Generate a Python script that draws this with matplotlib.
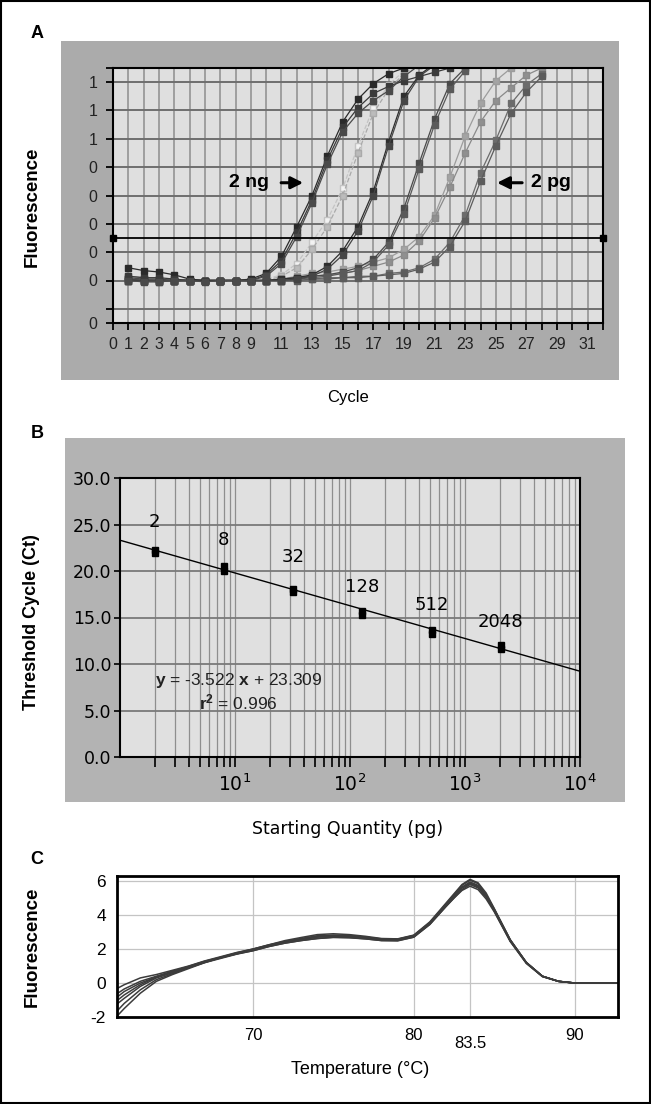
import numpy as np
import matplotlib
matplotlib.use('Agg')
import matplotlib.pyplot as plt
from matplotlib import font_manager
from matplotlib.patches import Rectangle

W, H = 651.0, 1104.0

# ---- panel A: amplification curves (fluorescence per cycle) ----
cycles = list(range(1, 29))
g1a = [0.09, 0.07, 0.06, 0.04, 0.01, 0.00, 0.00, 0.00, 0.01, 0.05, 0.17, 0.38, 0.60, 0.88,
       1.12, 1.28, 1.39, 1.46, 1.50, 1.53, 1.56, 1.58, 1.60, 1.61, 1.62, 1.62, 1.62, 1.62]
g1b = [0.03, 0.02, 0.02, 0.01, 0.00, 0.00, 0.00, 0.00, 0.00, 0.04, 0.14, 0.34, 0.57, 0.85,
       1.08, 1.22, 1.32, 1.37, 1.41, 1.44, 1.47, 1.50, 1.53, 1.55, 1.57, 1.58, 1.59, 1.60]
g1c = [0.00, -0.01, -0.01, 0.00, 0.00, -0.01, 0.00, 0.00, 0.00, 0.03, 0.12, 0.31, 0.55, 0.82,
       1.05, 1.18, 1.27, 1.34, 1.44, 1.52, 1.57, 1.60, 1.61, 1.62, 1.62, 1.62, 1.62, 1.62]
g2a = [0.03, 0.02, 0.01, 0.01, 0.00, 0.00, 0.00, 0.00, 0.00, 0.01, 0.04, 0.12, 0.27, 0.43,
       0.65, 0.95, 1.22, 1.38, 1.48, 1.55, 1.60, 1.62, 1.62, 1.62, 1.62, 1.62, 1.62, 1.62]
g2b = [0.01, 0.00, 0.01, 0.00, 0.00, 0.00, -0.01, 0.00, 0.00, 0.00, 0.03, 0.09, 0.22, 0.38,
       0.60, 0.90, 1.18, 1.35, 1.46, 1.53, 1.58, 1.61, 1.62, 1.62, 1.62, 1.62, 1.62, 1.62]
g3a = [0.00, 0.00, 0.00, 0.00, 0.00, 0.00, 0.00, 0.00, 0.00, 0.00, 0.01, 0.02, 0.04, 0.10,
       0.21, 0.38, 0.63, 0.98, 1.30, 1.45, 1.53, 1.58, 1.61, 1.62, 1.62, 1.62, 1.62, 1.62]
g3b = [0.01, 0.00, 0.00, 0.00, 0.00, 0.00, 0.00, 0.00, 0.00, 0.00, 0.00, 0.01, 0.03, 0.08,
       0.18, 0.35, 0.60, 0.95, 1.27, 1.44, 1.52, 1.57, 1.60, 1.62, 1.62, 1.62, 1.62, 1.62]
g4a = [0.02, 0.01, 0.01, 0.00, 0.00, 0.00, 0.00, 0.00, 0.00, 0.00, 0.01, 0.02, 0.03, 0.04,
       0.06, 0.09, 0.15, 0.27, 0.51, 0.83, 1.14, 1.39, 1.50, 1.56, 1.60, 1.62, 1.62, 1.62]
g4b = [0.00, 0.00, -0.01, 0.00, 0.00, 0.00, 0.00, 0.00, 0.00, 0.00, 0.00, 0.01, 0.02, 0.03,
       0.05, 0.07, 0.13, 0.25, 0.47, 0.79, 1.10, 1.35, 1.48, 1.55, 1.59, 1.61, 1.62, 1.62]
g5a = [0.03, 0.02, 0.01, 0.01, 0.00, 0.00, 0.00, 0.00, 0.00, 0.00, 0.01, 0.03, 0.05, 0.06,
       0.08, 0.10, 0.13, 0.16, 0.22, 0.31, 0.46, 0.73, 1.02, 1.25, 1.41, 1.50, 1.56, 1.60]
g5b = [0.01, 0.01, 0.00, 0.00, 0.00, 0.00, 0.00, 0.00, 0.00, 0.00, 0.00, 0.02, 0.03, 0.04,
       0.05, 0.07, 0.10, 0.13, 0.18, 0.28, 0.44, 0.66, 0.90, 1.12, 1.27, 1.36, 1.45, 1.50]
g6a = [0.00, 0.00, 0.00, 0.00, 0.00, 0.00, 0.00, 0.00, 0.00, 0.00, 0.00, 0.01, 0.01, 0.02,
       0.02, 0.03, 0.03, 0.05, 0.06, 0.09, 0.15, 0.27, 0.46, 0.76, 0.99, 1.25, 1.38, 1.46]
g6b = [0.01, 0.00, 0.00, 0.00, 0.00, 0.00, 0.00, 0.00, 0.00, 0.00, 0.00, 0.00, 0.01, 0.01,
       0.02, 0.02, 0.03, 0.04, 0.05, 0.08, 0.13, 0.24, 0.42, 0.70, 0.95, 1.18, 1.33, 1.44]
threshold = 0.30
a_xlabeled = [0, 1, 2, 3, 4, 5, 6, 7, 8, 9, 11, 13, 15, 17, 19, 21, 23, 25, 27, 29, 31]
a_yticks = [-0.3, -0.2, 0.0, 0.2, 0.4, 0.6, 0.8, 1.0, 1.2, 1.4, 1.5]
a_ylabels = ['0', '', '0', '0', '0', '0', '0', '1', '1', '1', '']

# ---- panel B: standard curve ----
quantities = [2, 8, 32, 128, 512, 2048]
ct_rep1 = [21.9, 20.0, 17.7, 15.3, 13.2, 11.6]
ct_rep2 = [22.3, 20.5, 18.1, 15.7, 13.7, 12.0]
qty_label_y = [25.3, 23.3, 21.5, 18.3, 16.3, 14.5]
slope, intercept, r2 = -3.522, 23.309, 0.996

# ---- panel C: melt curves ----
melt_temp = [61.6, 62, 63, 64, 65, 66, 67, 68, 69, 70, 71, 72, 73, 74, 75, 76, 77, 78, 79, 80,
             81, 82, 82.5, 83, 83.5, 84, 84.5, 85, 86, 87, 88, 89, 90, 92.7]
melt_1 = [-0.8, -0.5, 0.0, 0.35, 0.65, 0.95, 1.25, 1.5, 1.75, 1.95, 2.2, 2.4, 2.55, 2.7, 2.75, 2.72,
          2.65, 2.55, 2.55, 2.75, 3.5, 4.6, 5.1, 5.6, 5.9, 5.7, 5.1, 4.3, 2.5, 1.2, 0.4, 0.1, 0.0, 0.0]
melt_2 = [-1.9, -1.5, -0.6, 0.1, 0.5, 0.85, 1.2, 1.45, 1.7, 1.9, 2.15, 2.35, 2.5, 2.62, 2.68, 2.66,
          2.6, 2.5, 2.5, 2.7, 3.45, 4.5, 5.0, 5.45, 5.7, 5.5, 4.95, 4.2, 2.45, 1.15, 0.38, 0.1, 0.0, 0.0]
melt_3 = [-1.6, -1.2, -0.4, 0.2, 0.55, 0.9, 1.2, 1.5, 1.75, 1.98, 2.22, 2.45, 2.62, 2.78, 2.82, 2.8,
          2.7, 2.6, 2.58, 2.8, 3.55, 4.65, 5.2, 5.75, 6.05, 5.85, 5.2, 4.35, 2.55, 1.22, 0.4, 0.1, 0.0, 0.0]
melt_4 = [-0.3, -0.1, 0.3, 0.5, 0.75, 1.0, 1.3, 1.55, 1.8, 2.0, 2.25, 2.5, 2.68, 2.85, 2.9, 2.85,
          2.75, 2.62, 2.6, 2.82, 3.6, 4.7, 5.25, 5.8, 6.1, 5.9, 5.3, 4.4, 2.55, 1.2, 0.4, 0.1, 0.0, 0.0]
melt_5 = [-0.6, -0.35, 0.1, 0.4, 0.7, 0.95, 1.25, 1.5, 1.72, 1.9, 2.15, 2.35, 2.5, 2.62, 2.7, 2.68,
          2.6, 2.5, 2.48, 2.7, 3.45, 4.5, 5.0, 5.5, 5.8, 5.6, 5.05, 4.25, 2.45, 1.18, 0.38, 0.1, 0.0, 0.0]
melt_6 = [-1.2, -0.9, -0.2, 0.3, 0.6, 0.9, 1.22, 1.48, 1.72, 1.95, 2.18, 2.4, 2.58, 2.72, 2.78, 2.75,
          2.68, 2.56, 2.55, 2.76, 3.5, 4.55, 5.1, 5.6, 5.85, 5.65, 5.1, 4.3, 2.5, 1.2, 0.4, 0.1, 0.0, 0.0]
melt_7 = [-1.0, -0.7, -0.1, 0.35, 0.68, 0.98, 1.28, 1.52, 1.78, 2.0, 2.25, 2.45, 2.6, 2.75, 2.8, 2.78,
          2.7, 2.58, 2.56, 2.78, 3.55, 4.6, 5.15, 5.65, 5.95, 5.75, 5.15, 4.35, 2.52, 1.2, 0.4, 0.1, 0.0, 0.0]
c_xticks = [70, 80, 83.5, 90]
c_xlabels = ['70', '80', '83.5', '90']
c_yticks = [-2, 0, 2, 4, 6]

_names = {f.name for f in font_manager.fontManager.ttflist}
NARROW = 'Liberation Sans Narrow' if 'Liberation Sans Narrow' in _names else 'Liberation Sans'
plt.rcParams['font.family'] = ['Liberation Sans', 'DejaVu Sans']
plt.rcParams['mathtext.fontset'] = 'custom'
plt.rcParams['mathtext.rm'] = 'Liberation Sans'
plt.rcParams['mathtext.bf'] = 'Liberation Sans:bold'


def px(x, y):
    return x / W, 1 - y / H


def box(x0, y0, x1, y1):
    return [x0 / W, 1 - y1 / H, (x1 - x0) / W, (y1 - y0) / H]


fig = plt.figure(figsize=(W / 100, H / 100), dpi=100)
fig.patches.append(Rectangle((0.0015, 0.001), 0.997, 0.998, transform=fig.transFigure,
                             fill=False, ec='black', lw=1.5, zorder=5))

# ================= A =================
fig.patches.append(Rectangle(px(61, 380), 558 / W, 339 / H, transform=fig.transFigure,
                             fc='#ababab', ec='none', zorder=-1))
axA = fig.add_axes(box(113, 68, 603, 323))
axA.set_facecolor('#dfdfdf')
axA.set_xlim(0, 32)
axA.set_ylim(-0.3, 1.5)
axA.set_axisbelow(True)
axA.set_xticks(range(0, 33))
axA.set_xticklabels([str(c) if c in a_xlabeled else '' for c in range(0, 33)],
                    fontfamily=NARROW, fontsize=11.5, color='#222222')
axA.set_yticks(a_yticks)
axA.set_yticklabels(a_ylabels, fontfamily=NARROW, fontsize=11.5, color='#222222')
axA.tick_params(axis='x', length=5, width=1.3, pad=5)
axA.tick_params(axis='y', length=5, width=1.3, pad=6)
axA.xaxis.grid(True, color='#8e8e8e', lw=1.1)
axA.yaxis.grid(True, color='#6e6e6e', lw=1.4)
for s in axA.spines.values():
    s.set_linewidth(1.5)

amp_curves = [
    (g2a, '#c4c4c4', '#f2f2f2', '--'), (g2b, '#aaaaaa', '#bbbbbb', '--'),
    (g5a, '#9c9c9c', '#a4a4a4', '-'), (g5b, '#8a8a8a', '#909090', '-'),
    (g6a, '#6c6c6c', '#6c6c6c', '-'), (g6b, '#5c5c5c', '#5c5c5c', '-'),
    (g4a, '#4a4a4a', '#4a4a4a', '-'), (g4b, '#5a5a5a', '#5a5a5a', '-'),
    (g3a, '#2e2e2e', '#2e2e2e', '-'), (g3b, '#454545', '#454545', '-'),
    (g1a, '#2a2a2a', '#2a2a2a', '-'), (g1b, '#3a3a3a', '#3a3a3a', '-'),
    (g1c, '#4a4a4a', '#4a4a4a', '-'),
]
for vals, col, face, ls in amp_curves:
    axA.plot(cycles, vals, linestyle=ls, marker='s', color=col, mfc=face, mec=col,
             ms=4.5, lw=0.9)

axA.axhline(threshold, color='black', lw=1.3, zorder=4)
axA.plot([0, 32], [threshold, threshold], 's', color='black', ms=5, clip_on=False, zorder=5)

axA.text(8.9, 0.69, '2 ng', ha='center', va='center', fontsize=14, fontweight='bold')
axA.annotate('', xy=(12.6, 0.69), xytext=(10.8, 0.69),
             arrowprops=dict(arrowstyle='-|>', color='black', lw=2.2, mutation_scale=18))
axA.text(28.6, 0.69, '2 pg', ha='center', va='center', fontsize=14, fontweight='bold')
axA.annotate('', xy=(24.9, 0.69), xytext=(26.9, 0.69),
             arrowprops=dict(arrowstyle='-|>', color='black', lw=2.2, mutation_scale=18))

fig.text(*px(37, 33), 'A', ha='center', va='center', fontsize=13, fontweight='bold')
fig.text(*px(32, 207), 'Fluorescence', rotation=90, ha='center', va='center',
         fontsize=13.5, fontweight='bold')
fig.text(*px(348, 398), 'Cycle', ha='center', va='center', fontsize=12)

# ================= B =================
fig.patches.append(Rectangle(px(65, 802), 560 / W, 364 / H, transform=fig.transFigure,
                             fc='#b3b3b3', ec='none', zorder=-1))
axB = fig.add_axes(box(120, 478, 580, 757))
axB.set_facecolor('#e0e0e0')
axB.set_xscale('log')
axB.set_xlim(1, 1e4)
axB.set_ylim(0, 30)
axB.set_axisbelow(True)
axB.set_xticks([10, 100, 1000, 10000])
axB.set_yticks(np.arange(0, 31, 5))
axB.set_yticklabels(['%.1f' % v for v in np.arange(0, 31, 5)], fontfamily='DejaVu Sans',
                    fontsize=12.5)
for lab in axB.get_xticklabels():
    lab.set_fontfamily('DejaVu Sans')
axB.tick_params(axis='x', which='both', length=7, width=1.2, labelsize=13.5, pad=5)
axB.tick_params(axis='y', length=4, width=1.2, pad=2)
axB.xaxis.grid(True, which='both', color='#8e8e8e', lw=0.9)
axB.yaxis.grid(True, color='#7a7a7a', lw=1.3)
for s in axB.spines.values():
    s.set_linewidth(1.5)

fit_x = np.array([1.0, 1e4])
axB.plot(fit_x, slope * np.log10(fit_x) + intercept, color='black', lw=1.0)
axB.plot(quantities, ct_rep1, 's', color='black', ms=4.5)
axB.plot(quantities, ct_rep2, 's', color='black', ms=4.5)
for q, ly in zip(quantities, qty_label_y):
    axB.text(q, ly, str(q), ha='center', va='center', fontsize=13, fontfamily='DejaVu Sans')

fig.text(*px(239, 681), r'$\mathbf{y}$ = %.3f $\mathbf{x}$ + %.3f' % (slope, intercept),
         ha='center', va='center', fontsize=12.5, color='#222222')
fig.text(*px(238, 702), r'$\mathbf{r^2}$ = %.3f' % r2, ha='center', va='center',
         fontsize=12.5, color='#222222')

fig.text(*px(37, 433), 'B', ha='center', va='center', fontsize=13, fontweight='bold')
fig.text(*px(32, 622), 'Threshold Cycle (Ct)', rotation=90, ha='center', va='center',
         fontsize=13, fontweight='bold')
fig.text(*px(348, 829), 'Starting Quantity (pg)', ha='center', va='center', fontsize=12.5,
         fontfamily='DejaVu Sans')

# ================= C =================
axC = fig.add_axes(box(117, 876, 618, 1017))
axC.set_xlim(61.55, 92.7)
axC.set_ylim(-2, 6.3)
axC.set_axisbelow(True)
axC.set_xticks(c_xticks)
axC.set_xticklabels(c_xlabels, fontsize=12)
axC.set_yticks(c_yticks)
axC.set_yticklabels([str(v) for v in c_yticks], fontsize=12.5)
axC.tick_params(axis='both', length=0)
axC.tick_params(axis='x', pad=8)
axC.tick_params(axis='y', pad=8)
axC.xaxis.get_major_ticks()[2].set_pad(14)
axC.grid(True, color='#c4c4c4', lw=0.9)
for s in axC.spines.values():
    s.set_linewidth(2)

for curve in [melt_1, melt_2, melt_3, melt_4, melt_5, melt_6, melt_7]:
    axC.plot(melt_temp, curve, color='#3c3c3c', lw=1.1)

fig.text(*px(37, 860), 'C', ha='center', va='center', fontsize=13, fontweight='bold')
fig.text(*px(32, 947), 'Fluorescence', rotation=90, ha='center', va='center',
         fontsize=13.5, fontweight='bold')
fig.text(*px(360, 1070), 'Temperature (\u00b0C)', ha='center', va='center', fontsize=13)

fig.savefig('out.png', dpi=100)
